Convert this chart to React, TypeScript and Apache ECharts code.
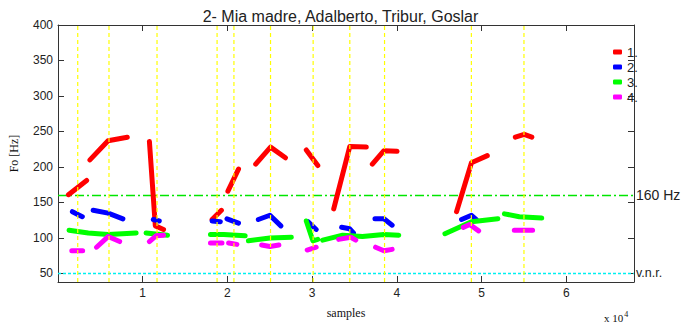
import React, { useEffect, useRef } from "react";
import * as echarts from "echarts";

const X_MIN = 0;
const X_MAX = 68000;
const Y_MIN = 38;
const Y_MAX = 400;

const xTickValues = [10000, 20000, 30000, 40000, 50000, 60000];
const yTickValues = [50, 100, 150, 200, 250, 300, 350, 400];

const seriesNames = ["1.", "2.", "3.", "4."];
const seriesColors = ["#ff0000", "#0000ff", "#00ff00", "#ff00ff"];

const redSegments = [
  [[1230, 161], [3380, 181]],
  [[3770, 210], [5910, 237], [8180, 242]],
  [[10790, 236], [11490, 117], [12460, 112]],
  [[18190, 126], [19290, 139]],
  [[20060, 166], [21310, 197]],
  [[23340, 204], [25090, 228], [26850, 213]],
  [[29310, 224], [30670, 202]],
  [[32550, 141], [34450, 229], [36400, 228]],
  [[37110, 204], [38480, 223], [40030, 222]],
  [[47050, 137], [48810, 206], [50680, 216]],
  [[53990, 242], [55040, 246], [55940, 242]],
];

const blueSegments = [
  [[1700, 137], [2870, 130]],
  [[4150, 139], [5910, 135], [7660, 127]],
  [[11250, 126], [11960, 124]],
  [[18190, 124], [19170, 123]],
  [[19950, 127], [21310, 121]],
  [[23650, 126], [25020, 132], [26310, 117]],
  [[29500, 123], [30480, 112]],
  [[33480, 115], [34420, 113], [34880, 107]],
  [[37420, 127], [38480, 127], [39450, 118]],
  [[47640, 126], [48810, 132], [49390, 126]],
];

const greenSegments = [
  [[1310, 111], [3570, 107], [5910, 105], [9230, 107]],
  [[10400, 107], [12930, 104]],
  [[18000, 105], [19560, 105], [22100, 103]],
  [[22480, 96], [25020, 100], [27550, 101]],
  [[29310, 124], [30090, 96], [30670, 98]],
  [[31250, 97], [33600, 104], [35940, 102], [38480, 105], [40230, 104]],
  [[45680, 106], [48810, 123], [51930, 127]],
  [[52700, 134], [54460, 130], [57110, 128]],
];

const magentaSegments = [
  [[1630, 82], [2910, 82]],
  [[4550, 87], [5910, 102], [7280, 95]],
  [[10790, 95], [11570, 103], [12460, 104]],
  [[18000, 93], [19360, 93]],
  [[20140, 93], [21120, 91]],
  [[24040, 90], [25020, 88], [26080, 90]],
  [[29420, 83], [30480, 87]],
  [[33130, 98], [34570, 101], [35150, 97]],
  [[37490, 87], [38480, 82], [39450, 84]],
  [[47840, 115], [48610, 119], [49660, 110]],
  [[53870, 111], [56030, 111]],
];

const boundaryMarks = [2330, 6020, 11690, 18780, 20770, 25090, 30120, 34450, 38550, 48800, 55010];

const thresholdHz = 160;
const thresholdLabel = "160 Hz";
const vnrHz = 50;
const vnrLabel = "v.n.r.";

const allSegments = [redSegments, blueSegments, greenSegments, magentaSegments];

function flatten(segs: number[][][]) {
  const out: any[] = [];
  segs.forEach((s, i) => {
    if (i > 0) out.push([s[0][0], "-"]);
    s.forEach((p) => out.push(p));
  });
  return out;
}

function verticals(xs: number[]) {
  const out: any[] = [];
  xs.forEach((v, i) => {
    if (i > 0) out.push([v, "-"]);
    out.push([v, Y_MIN]);
    out.push([v, Y_MAX]);
  });
  return out;
}

const SANS = "Liberation Sans";
const SERIF = "Liberation Serif";
const AXIS_COLOR = "#333333";

export default function App() {
  const ref = useRef<HTMLDivElement>(null);

  useEffect(() => {
    if (!ref.current) return;
    const chart = echarts.init(ref.current, null, { renderer: "svg" });

    const axisCommon = {
      type: "value",
      axisLine: { show: true, onZero: false, lineStyle: { color: AXIS_COLOR, width: 1 } },
      splitLine: { show: false },
    };

    const dataSeries = allSegments.map((segs, i) => ({
      name: seriesNames[i],
      type: "line",
      data: flatten(segs),
      showSymbol: false,
      symbol: "none",
      connectNulls: false,
      color: seriesColors[i],
      lineStyle: { color: seriesColors[i], width: 5, cap: "round", join: "round" },
      emphasis: { disabled: true },
      z: 3,
    }));

    const refLine = (name: string, y: number, label: string, color: string, type: any, fontSize: number) => ({
      name,
      type: "line",
      data: [[X_MIN, y], [X_MAX, y]],
      showSymbol: false,
      symbol: "none",
      color,
      silent: true,
      emphasis: { disabled: true },
      lineStyle: { color, width: 1.5, type },
      endLabel: {
        show: true,
        formatter: label,
        distance: 2,
        fontFamily: SANS,
        fontSize,
        color: "#222",
      },
      z: 2,
    });

    const option: any = {
      animation: false,
      title: {
        text: "2- Mia madre, Adalberto, Tribur, Goslar",
        left: "center",
        top: 3,
        textStyle: { fontFamily: SANS, fontSize: 16, fontWeight: "normal", color: "#222" },
      },
      legend: {
        data: seriesNames.map((n) => ({ name: n, icon: "roundRect" })),
        orient: "vertical",
        left: 613,
        top: 45,
        itemWidth: 9,
        itemHeight: 5,
        itemGap: 1,
        padding: 0,
        selectedMode: false,
        textStyle: { fontFamily: SANS, fontSize: 13, color: "#222", lineHeight: 14 },
      },
      grid: { left: 53, right: 47, top: 25, bottom: 45 },
      xAxis: [
        {
          ...axisCommon,
          position: "bottom",
          min: X_MIN,
          max: X_MAX,
          name: "samples",
          nameLocation: "middle",
          nameGap: 25,
          nameTextStyle: { fontFamily: SERIF, fontSize: 12, color: "#111" },
          axisTick: { show: true, inside: true, length: 6, customValues: xTickValues, lineStyle: { color: AXIS_COLOR } },
          axisLabel: {
            customValues: xTickValues,
            margin: 5,
            fontFamily: SANS,
            fontSize: 12,
            color: "#222",
            formatter: (v: number) => String(v / 10000),
          },
        },
        {
          ...axisCommon,
          position: "top",
          min: X_MIN,
          max: X_MAX,
          axisTick: { show: true, inside: true, length: 6, customValues: xTickValues, lineStyle: { color: AXIS_COLOR } },
          axisLabel: { show: false },
        },
      ],
      yAxis: [
        {
          ...axisCommon,
          position: "left",
          min: Y_MIN,
          max: Y_MAX,
          name: "Fo [Hz]",
          nameLocation: "middle",
          nameRotate: 90,
          nameGap: 38,
          nameTextStyle: { fontFamily: SERIF, fontSize: 12, color: "#111" },
          axisTick: { show: true, inside: true, length: 6, customValues: yTickValues, lineStyle: { color: AXIS_COLOR } },
          axisLabel: { customValues: yTickValues, margin: 5, fontFamily: SANS, fontSize: 12, color: "#222" },
        },
        {
          ...axisCommon,
          position: "right",
          min: Y_MIN,
          max: Y_MAX,
          axisTick: { show: true, inside: true, length: 6, customValues: yTickValues, lineStyle: { color: AXIS_COLOR } },
          axisLabel: { show: false },
        },
      ],
      series: [
        refLine("threshold", thresholdHz, thresholdLabel, "#00e600", [9, 3, 2, 3], 14),
        refLine("vnr", vnrHz, vnrLabel, "#00f0f0", [3, 2], 12.5),
        ...dataSeries,
        {
          name: "marks",
          type: "line",
          data: verticals(boundaryMarks),
          showSymbol: false,
          symbol: "none",
          connectNulls: false,
          silent: true,
          color: "#ffff00",
          emphasis: { disabled: true },
          lineStyle: { color: "#ffff00", width: 1.2, type: [4, 3] },
          z: 6,
        },
      ],
      graphic: [
        {
          type: "text",
          left: 604,
          top: 310,
          style: {
            text: "x 10{sup|4}",
            fontFamily: SERIF,
            fontSize: 11,
            fill: "#111",
            rich: { sup: { fontSize: 8, verticalAlign: "top", padding: [0, 0, 8, 1], fontFamily: SERIF, fill: "#111" } },
          },
        },
      ],
    };

    chart.setOption(option);
    return () => chart.dispose();
  }, []);

  return (
    <div
      ref={ref}
      style={{ position: "fixed", left: 0, top: 0, width: 681, height: 327, background: "#fff" }}
    />
  );
}
